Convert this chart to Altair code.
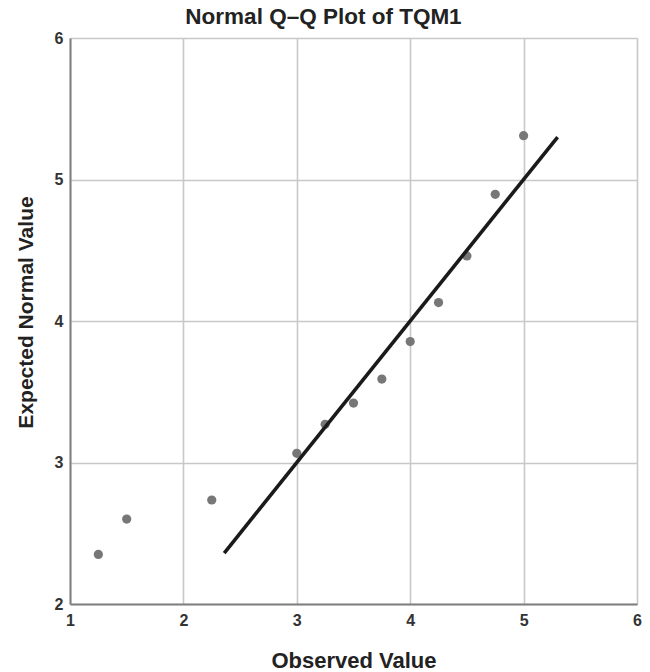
import altair as alt
import pandas as pd

observed = [1.25, 1.5, 2.25, 3.0, 3.25, 3.5, 3.75, 4.0, 4.25, 4.5, 4.75, 5.0]
expected = [2.35, 2.60, 2.735, 3.065, 3.27, 3.42, 3.59, 3.855, 4.13, 4.46, 4.895, 5.31]
line_x = [2.36, 5.30]
line_y = [2.36, 5.30]

pts = pd.DataFrame({"Observed": observed, "Expected": expected})
ln = pd.DataFrame({"Observed": line_x, "Expected": line_y})

FONT = "Liberation Sans"

xscale = alt.Scale(domain=[1, 6], nice=False, zero=False)
yscale = alt.Scale(domain=[2, 6], nice=False, zero=False)

xaxis = alt.Axis(
    title="Observed Value", values=[1, 2, 3, 4, 5, 6], format="d",
    titleFont=FONT, titleFontSize=22, titleFontWeight="bold", titleColor="#222",
    titleY=63, titleBaseline="alphabetic",
    labelFont=FONT, labelFontSize=16, labelFontWeight="bold",
    labelColor="#333", labelPadding=8, tickSize=0, grid=True,
    gridColor="#c8c8c8", gridWidth=1.6, domainColor="#808080", domainWidth=2,
    labelFlush=False,
)
yaxis = alt.Axis(
    title="Expected Normal Value", values=[2, 3, 4, 5, 6], format="d",
    titleFont=FONT, titleFontSize=21, titleFontWeight="bold", titleColor="#222",
    titleX=-38, titleY=274, titleBaseline="alphabetic",
    labelFont=FONT, labelFontSize=16, labelFontWeight="bold",
    labelColor="#333", labelPadding=7, tickSize=0, grid=True,
    gridColor="#c8c8c8", gridWidth=1.6, domainColor="#808080", domainWidth=2,
    labelFlush=False,
)

points = alt.Chart(pts).mark_circle(size=85, color="#777777", opacity=1).encode(
    x=alt.X("Observed:Q", scale=xscale, axis=xaxis),
    y=alt.Y("Expected:Q", scale=yscale, axis=yaxis),
)

line = alt.Chart(ln).mark_line(color="#1a1a1a", strokeWidth=3.6).encode(
    x=alt.X("Observed:Q", scale=xscale),
    y=alt.Y("Expected:Q", scale=yscale),
)

chart = (
    alt.layer(points, line)
    .properties(
        width=567, height=566,
        title=alt.TitleParams(
            "Normal Q–Q Plot of TQM1", font=FONT, fontSize=22.5, fontWeight="bold",
            color="#222", anchor="middle", dx=-30, offset=2,
        ),
        autosize=alt.AutoSizeParams(type="none"),
        padding={"left": 70, "top": 38, "right": 13, "bottom": 68},
    )
    .configure_view(stroke=None)
    .configure(background="white")
)

chart.save("out.html", embed_options={"renderer": "svg", "actions": False})
